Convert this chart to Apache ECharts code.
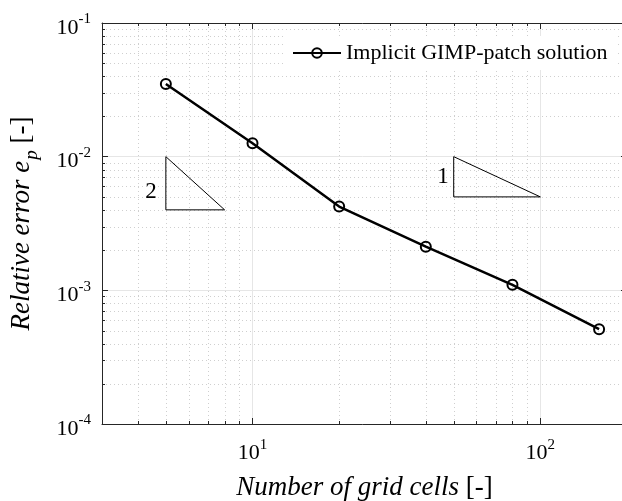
<!DOCTYPE html>
<html><head><meta charset="utf-8">
<script src="https://cdn.jsdelivr.net/npm/echarts@6/dist/echarts.min.js"></script>
<style>html,body{margin:0;padding:0;background:#fff}#c{width:622px;height:501px}</style>
</head><body><div id="c"></div>
<script>
const gridCells = [5, 10, 20, 40, 80, 160];
const relError = [0.0350, 0.0126, 0.00423, 0.00212, 0.00110, 0.000512];
const seriesName = 'Implicit GIMP-patch solution';
const slope2Tri = [[5, 0.01], [5, 0.004], [8, 0.004], [5, 0.01]];
const slope1Tri = [[50, 0.01], [50, 0.005], [100, 0.005], [50, 0.01]];
const slopeLabels = [[4.44, 0.00545, '2'], [45.9, 0.00705, '1']];
const xRange = [3, 200];
const yRange = [1e-4, 1e-1];
const xDecades = [1, 10, 100];
const yDecades = [1e-4, 1e-3, 1e-2];
const minorMantissas = [2, 3, 4, 5, 6, 7, 8, 9];
const xTitle = 'Number of grid cells';
const yTitle = 'Relative error';

const SERIF = "'Liberation Serif','Times New Roman',serif";
const AXIS_C = '#262626';
const MINOR_C = '#cfcfcf';

const minorData = [];
xDecades.forEach(d => minorMantissas.forEach(m => {
  const v = m * d; if (v > xRange[0] && v < xRange[1]) minorData.push([v, yRange[0], 0]);
}));
yDecades.forEach(d => minorMantissas.forEach(m => {
  const v = m * d; if (v > yRange[0] && v < yRange[1]) minorData.push([xRange[0], v, 1]);
}));

function powLabel(prefix) {
  return function (v) {
    const e = Math.log10(v), r = Math.round(e);
    if (Math.abs(e - r) > 1e-6) return '';
    return '{' + prefix + 'b|10}{' + prefix + 's|' + r + '}';
  };
}

const chart = echarts.init(document.getElementById('c'), null, {renderer: 'canvas'});
chart.setOption({
  animation: false,
  backgroundColor: '#fff',
  grid: {left: 102, top: 23, right: -5, bottom: 77, containLabel: false, outerBoundsMode: 'none'},
  legend: {
    data: [seriesName], left: 286, top: 36, padding: [6, 8, 6, 6],
    backgroundColor: '#fff', itemWidth: 48, itemHeight: 12,
    textStyle: {fontFamily: SERIF, fontSize: 22, color: '#000'}
  },
  xAxis: [{
    type: 'log', logBase: 10, min: xRange[0], max: xRange[1],
    name: '{i|' + xTitle + ' }{n|[-]}', nameLocation: 'middle', nameGap: 50,
    nameTextStyle: {rich: {
      i: {fontFamily: SERIF, fontStyle: 'italic', fontSize: 27, color: '#000'},
      n: {fontFamily: SERIF, fontSize: 27, color: '#000'}
    }},
    axisLine: {lineStyle: {color: AXIS_C, width: 1}},
    axisTick: {inside: true, length: 6, lineStyle: {color: AXIS_C}},
    axisLabel: {
      margin: 14, formatter: powLabel('x'),
      rich: {
        xb: {fontFamily: SERIF, fontSize: 22, color: '#000'},
        xs: {fontFamily: SERIF, fontSize: 15, color: '#000', padding: [0, 0, 15, 0]}
      }
    },
    splitLine: {show: true, lineStyle: {color: '#e6e6e6', width: 1}}
  }, {
    type: 'log', logBase: 10, min: xRange[0], max: xRange[1], position: 'top',
    axisLine: {lineStyle: {color: AXIS_C, width: 1}},
    axisTick: {inside: true, length: 6, lineStyle: {color: AXIS_C}},
    axisLabel: {show: false}, splitLine: {show: false}
  }],
  yAxis: [{
    type: 'log', logBase: 10, min: yRange[0], max: yRange[1],
    name: '{i|' + yTitle + ' e}{sub|p}{n| [-]}', nameLocation: 'middle', nameGap: 61, nameRotate: 90,
    nameTextStyle: {rich: {
      i: {fontFamily: SERIF, fontStyle: 'italic', fontSize: 27, color: '#000'},
      sub: {fontFamily: SERIF, fontStyle: 'italic', fontSize: 19, color: '#000', padding: [20, 0, 0, 1]},
      n: {fontFamily: SERIF, fontSize: 27, color: '#000'}
    }},
    axisLine: {lineStyle: {color: AXIS_C, width: 1}},
    axisTick: {inside: true, length: 6, lineStyle: {color: AXIS_C}},
    axisLabel: {
      margin: 11, formatter: powLabel('y'),
      rich: {
        yb: {fontFamily: SERIF, fontSize: 22, color: '#000', padding: [10, 0, 0, 0]},
        ys: {fontFamily: SERIF, fontSize: 15, color: '#000', padding: [0, 0, 7, 0]}
      }
    },
    splitLine: {show: true, lineStyle: {color: '#e6e6e6', width: 1}}
  }, {
    type: 'log', logBase: 10, min: yRange[0], max: yRange[1], position: 'right',
    axisLine: {lineStyle: {color: AXIS_C, width: 1}},
    axisTick: {inside: true, length: 6, lineStyle: {color: AXIS_C}},
    axisLabel: {show: false}, splitLine: {show: false}
  }],
  series: [{
    type: 'custom', name: 'minor', silent: true, z: 1, clip: false,
    data: minorData,
    renderItem: function (params, api) {
      const cs = params.coordSys;
      const top = cs.y, bot = cs.y + cs.height, left = cs.x;
      if (api.value(2) === 0) {
        const px = Math.round(api.coord([api.value(0), yRange[0]])[0]) + 0.5;
        return {type: 'group', children: [
          {type: 'line', shape: {x1: px, y1: top, x2: px, y2: bot}, style: {stroke: MINOR_C, lineWidth: 1, lineDash: [1, 3]}},
          {type: 'line', shape: {x1: px, y1: bot, x2: px, y2: bot - 3}, style: {stroke: AXIS_C, lineWidth: 1}},
          {type: 'line', shape: {x1: px, y1: top, x2: px, y2: top + 3}, style: {stroke: AXIS_C, lineWidth: 1}}
        ]};
      }
      const py = Math.round(api.coord([xRange[0], api.value(1)])[1]) + 0.5;
      return {type: 'group', children: [
        {type: 'line', shape: {x1: left, y1: py, x2: cs.x + cs.width, y2: py}, style: {stroke: MINOR_C, lineWidth: 1, lineDash: [1, 3]}},
        {type: 'line', shape: {x1: left, y1: py, x2: left + 3, y2: py}, style: {stroke: AXIS_C, lineWidth: 1}}
      ]};
    }
  }, {
    type: 'line', name: 'slope2', data: slope2Tri, symbol: 'none', silent: true, z: 2,
    lineStyle: {color: '#000', width: 1}
  }, {
    type: 'line', name: 'slope1', data: slope1Tri, symbol: 'none', silent: true, z: 2,
    lineStyle: {color: '#000', width: 1}
  }, {
    type: 'custom', name: 'slopeLabels', silent: true, z: 2,
    data: slopeLabels.map(d => [d[0], d[1]]),
    renderItem: function (params, api) {
      const p = api.coord([api.value(0), api.value(1)]);
      return {type: 'text', x: p[0], y: p[1], style: {
        text: slopeLabels[params.dataIndex][2], fill: '#000',
        font: "23px 'Liberation Serif', serif", align: 'center', verticalAlign: 'middle'
      }};
    }
  }, {
    type: 'line', name: seriesName, z: 3,
    data: gridCells.map((x, i) => [x, relError[i]]),
    symbol: 'circle', symbolSize: 10,
    lineStyle: {color: '#000', width: 2.5},
    itemStyle: {color: 'rgba(0,0,0,0)', borderColor: '#000', borderWidth: 2}
  }]
});
</script></body></html>
